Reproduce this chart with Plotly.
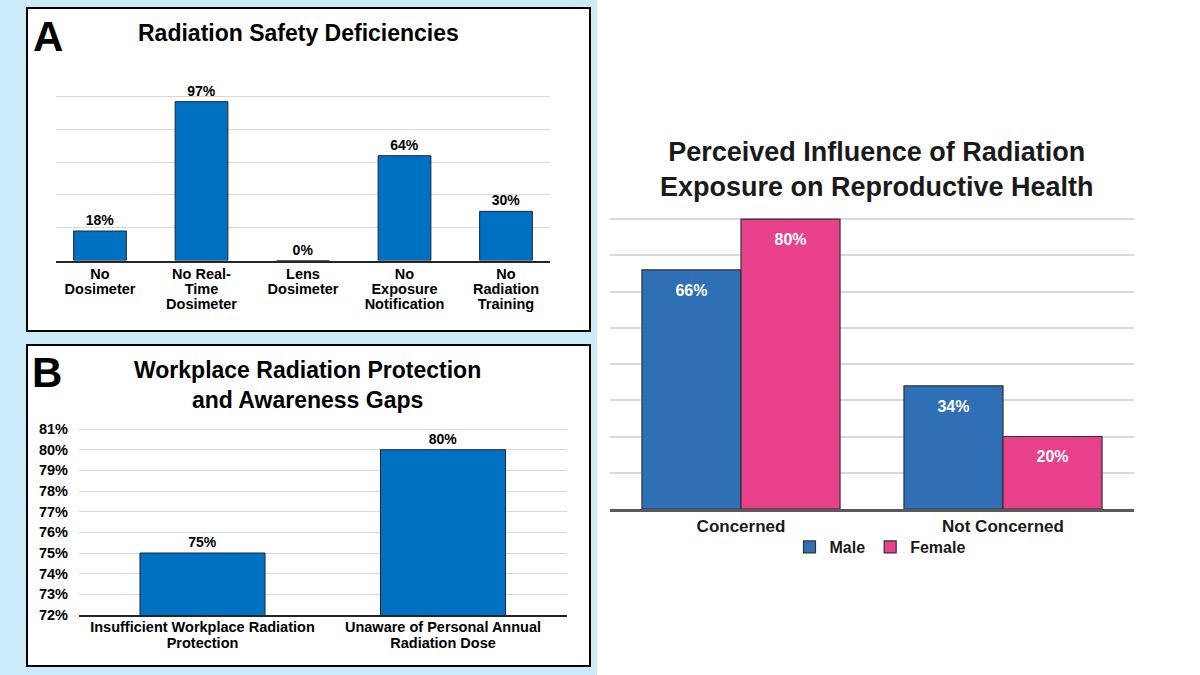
import plotly.graph_objects as go

# ---- data ----
a_categories = ["No<br>Dosimeter", "No Real-<br>Time<br>Dosimeter", "Lens<br>Dosimeter",
                "No<br>Exposure<br>Notification", "No<br>Radiation<br>Training"]
a_values = [18, 97, 0, 64, 30]

b_categories = ["Insufficient Workplace Radiation<br>Protection",
                "Unaware of Personal Annual<br>Radiation Dose"]
b_values = [75, 80]

c_categories = ["Concerned", "Not Concerned"]
c_male = [66, 34]
c_female = [80, 20]

W, H = 1200, 675
FONT = "Liberation Sans, Arial, sans-serif"
BLUE_A = "#0070C0"
MALE = "#2F6FB6"
FEMALE = "#E8408B"
GRID = "#D9D9D9"


def px(x):
    return x / W


def py(y):
    return 1 - y / H


def styled(label, size):
    # keep glyphs at `size` while the (smaller) base font sets a tighter line spacing
    return "<br>".join(f"<span style='font-size:{size}px'>{part}</span>"
                       for part in label.split("<br>"))


def inside_label(v):
    # a tiny leading line pushes the label a little further down from the bar top
    return f"<span style='font-size:2px'>.</span><br>{v}%"


fig = go.Figure()

fig.add_trace(go.Bar(
    x=a_categories, y=a_values, xaxis="x", yaxis="y", width=0.52,
    marker=dict(color=BLUE_A, line=dict(color="#1a2a3a", width=1)),
    text=[f"{v}%" for v in a_values], textposition="outside",
    textfont=dict(family=FONT, size=14, color="black", weight="bold"),
    cliponaxis=False, showlegend=False, hoverinfo="skip"))

fig.add_trace(go.Bar(
    x=b_categories, y=b_values, xaxis="x2", yaxis="y2", width=0.52,
    marker=dict(color=BLUE_A, line=dict(color="#1a2a3a", width=1)),
    text=[f"{v}%" for v in b_values], textposition="outside",
    textfont=dict(family=FONT, size=14, color="black", weight="bold"),
    cliponaxis=False, showlegend=False, hoverinfo="skip"))

fig.add_trace(go.Bar(
    x=c_categories, y=c_male, name="Male", xaxis="x3", yaxis="y3",
    marker=dict(color=MALE, line=dict(color="#333333", width=1.2)),
    text=[inside_label(v) for v in c_male], textposition="inside", insidetextanchor="end",
    textfont=dict(family=FONT, size=16, color="white", weight="bold"),
    hoverinfo="skip"))

fig.add_trace(go.Bar(
    x=c_categories, y=c_female, name="Female", xaxis="x3", yaxis="y3",
    marker=dict(color=FEMALE, line=dict(color="#333333", width=1.2)),
    text=[inside_label(v) for v in c_female], textposition="inside", insidetextanchor="end",
    textfont=dict(family=FONT, size=16, color="white", weight="bold"),
    hoverinfo="skip"))

shapes = [
    dict(type="rect", xref="paper", yref="paper", x0=0, x1=px(597), y0=0, y1=1,
         fillcolor="#CBEBF9", line=dict(width=0), layer="below"),
    dict(type="rect", xref="paper", yref="paper", x0=px(27), x1=px(590), y0=py(331), y1=py(8),
         fillcolor="white", line=dict(color="black", width=2), layer="below"),
    dict(type="rect", xref="paper", yref="paper", x0=px(27), x1=px(590), y0=py(666), y1=py(345),
         fillcolor="white", line=dict(color="black", width=2), layer="below"),
]


def ann(text, x, y, size, color="black"):
    return dict(text=text, x=px(x), y=py(y), xref="paper", yref="paper", showarrow=False,
                xanchor="center", yanchor="middle",
                font=dict(family=FONT, size=size, color=color, weight="bold"))


annotations = [
    ann("A", 48, 36, 42),
    ann("Radiation Safety Deficiencies", 298, 33, 23),
    ann("B", 47, 372, 42),
    ann("Workplace Radiation Protection<br>and Awareness Gaps", 307, 385, 23),
    ann("Perceived Influence of Radiation<br>Exposure on Reproductive Health", 877, 169, 27,
        "#1a1a1a"),
]

fig.update_layout(
    width=W, height=H, margin=dict(l=0, r=0, t=0, b=0, autoexpand=False),
    paper_bgcolor="white", plot_bgcolor="rgba(0,0,0,0)",
    barmode="group", bargap=0.244, bargroupgap=0,
    font=dict(family=FONT, color="black"),
    shapes=shapes, annotations=annotations,
    xaxis=dict(domain=[px(56), px(550)], anchor="y", range=[-0.4335, 4.4335],
               showline=True, linecolor="#262626", linewidth=2, ticks="",
               tickmode="array", tickvals=a_categories, ticklabelstandoff=3,
               ticktext=[styled(c, 14.5) for c in a_categories],
               tickfont=dict(family=FONT, size=11.5, color="black", weight="bold"),
               automargin=False),
    yaxis=dict(domain=[py(260.5), py(63)], anchor="x", range=[0, 120.6], dtick=20,
               showticklabels=False, gridcolor=GRID, gridwidth=1, zeroline=False,
               automargin=False),
    xaxis2=dict(domain=[px(79), px(567)], anchor="y2", range=[-0.5135, 1.5156],
                showline=True, linecolor="#262626", linewidth=2, ticks="",
                tickmode="array", tickvals=b_categories,
                ticktext=[styled(c, 14.5) for c in b_categories],
                tickfont=dict(family=FONT, size=12.5, color="black", weight="bold"),
                automargin=False),
    yaxis2=dict(domain=[py(615), py(428)], anchor="x2", range=[72, 81.05], dtick=1,
                ticksuffix="%", ticklabelstandoff=10,
                tickfont=dict(family=FONT, size=14.5, color="black", weight="bold"),
                gridcolor=GRID, gridwidth=1, zeroline=False, automargin=False),
    xaxis3=dict(domain=[px(610), px(1134)], anchor="y3", showline=True, linecolor="#595959",
                linewidth=2.5, ticks="", automargin=False,
                tickfont=dict(family=FONT, size=17, color="#1a1a1a", weight="bold")),
    yaxis3=dict(domain=[py(509), py(218)], anchor="x3", range=[0, 80.3], dtick=10,
                showticklabels=False, gridcolor=GRID, gridwidth=1.5, zeroline=False,
                automargin=False),
    legend=dict(orientation="h", x=px(880), xanchor="center", y=py(547), yanchor="middle",
                font=dict(family=FONT, size=16, color="#1a1a1a", weight="bold"),
                bgcolor="rgba(0,0,0,0)", itemwidth=30, tracegroupgap=0),
)

fig.write_html("out.html", config={"displayModeBar": False},
               post_script="document.body.style.margin='0';")
